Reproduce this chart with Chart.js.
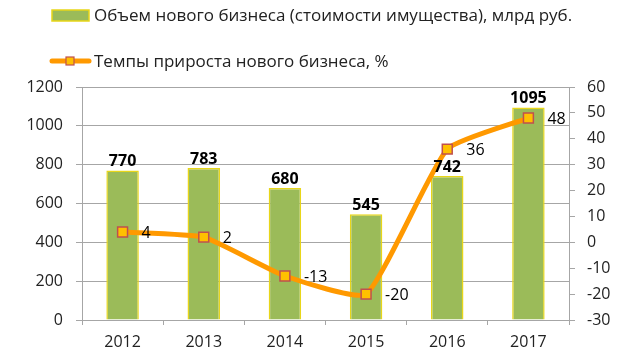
<!DOCTYPE html>
<html>
<head>
<meta charset="utf-8">
<script src="https://cdn.jsdelivr.net/npm/chart.js@4"></script>
<style>
  html, body { margin: 0; padding: 0; background: #fff; }
  #wrap { width: 636px; height: 360px; }
</style>
</head>
<body>
<div id="wrap"><canvas id="chart" width="636" height="360"></canvas></div>
<script>
// данные
const years = ['2012', '2013', '2014', '2015', '2016', '2017'];
const volume = [770, 783, 680, 545, 742, 1095];   // млрд руб.
const growth = [4, 2, -13, -20, 36, 48];          // %
const leftTicks = { min: 0, max: 1200, step: 200 };
const rightTicks = { min: -30, max: 60, step: 10 };

const FONT = "'Open Sans', 'Noto Sans', sans-serif";
const GRID = '#a6a6a6';
const TEXT = '#222';

// легенда (две строки, как в Excel)
const legendPlugin = {
  id: 'xlLegend',
  afterDraw(chart) {
    const c = chart.ctx;
    const ds = chart.data.datasets;
    c.save();
    c.font = '17px ' + FONT;
    c.textBaseline = 'middle';
    // столбцы
    c.fillStyle = ds[0].backgroundColor;
    c.fillRect(52, 10, 37, 11);
    c.strokeStyle = ds[0].borderColor;
    c.lineWidth = 1.5;
    c.strokeRect(52, 10, 37, 11);
    c.fillStyle = TEXT;
    c.fillText(ds[0].label, 94, 16);
    // линия
    c.strokeStyle = ds[1].borderColor;
    c.lineWidth = 5;
    c.lineCap = 'round';
    c.beginPath();
    c.moveTo(52, 61);
    c.lineTo(89, 61);
    c.stroke();
    c.fillStyle = ds[1].pointBackgroundColor;
    c.fillRect(66, 57, 8, 8);
    c.strokeStyle = ds[1].pointBorderColor;
    c.lineWidth = 1.2;
    c.strokeRect(66, 57, 8, 8);
    c.fillStyle = TEXT;
    c.fillText(ds[1].label, 94, 62);
    c.restore();
  }
};

// подписи значений
const labelsPlugin = {
  id: 'valueLabels',
  afterDatasetsDraw(chart) {
    const c = chart.ctx;
    c.save();
    c.fillStyle = '#000';
    // над столбцами
    c.font = 'bold 16px ' + FONT;
    c.textAlign = 'center';
    c.textBaseline = 'alphabetic';
    chart.getDatasetMeta(0).data.forEach((bar, i) => {
      c.fillText(String(volume[i]), bar.x, bar.y - 4);
    });
    // справа от точек
    c.font = '16px ' + FONT;
    c.textAlign = 'left';
    c.textBaseline = 'middle';
    chart.getDatasetMeta(1).data.forEach((pt, i) => {
      c.fillText(String(growth[i]), pt.x + 19, pt.y + 1);
    });
    c.restore();
  }
};

const plain = v => String(v);

new Chart(document.getElementById('chart'), {
  data: {
    labels: years,
    datasets: [
      {
        type: 'bar',
        label: 'Объем нового бизнеса (стоимости имущества), млрд руб.',
        data: volume,
        yAxisID: 'y',
        backgroundColor: '#9bbb59',
        borderColor: '#e8d619',
        borderWidth: 1.5,
        barPercentage: 0.4,
        categoryPercentage: 1,
        order: 2
      },
      {
        type: 'line',
        label: 'Темпы прироста нового бизнеса, %',
        data: growth,
        yAxisID: 'y1',
        borderColor: '#ff9900',
        borderWidth: 5,
        tension: 0.15,
        pointStyle: 'rect',
        pointRadius: 7,
        pointBackgroundColor: '#ffc000',
        pointBorderColor: '#c0504d',
        pointBorderWidth: 1.5,
        order: 1
      }
    ]
  },
  options: {
    responsive: false,
    animation: false,
    layout: { padding: { top: 87, left: 0, right: 0, bottom: 0 } },
    plugins: {
      legend: { display: false },
      tooltip: { enabled: false }
    },
    scales: {
      x: {
        afterFit(s) { s.height = 40; },
        grid: { offset: true, drawOnChartArea: false, color: GRID, tickLength: 5 },
        border: { color: GRID },
        ticks: { color: TEXT, font: { family: FONT, size: 16 }, padding: 8, maxRotation: 0 }
      },
      y: {
        position: 'left',
        min: leftTicks.min,
        max: leftTicks.max,
        afterFit(s) { s.width = 82; },
        grid: { color: GRID, tickLength: 6 },
        border: { color: GRID },
        ticks: { stepSize: leftTicks.step, callback: plain, color: TEXT, font: { family: FONT, size: 16 }, padding: 13 }
      },
      y1: {
        position: 'right',
        min: rightTicks.min,
        max: rightTicks.max,
        afterFit(s) { s.width = 67; },
        grid: { drawOnChartArea: false, color: GRID, tickLength: 6 },
        border: { color: GRID },
        ticks: { stepSize: rightTicks.step, callback: plain, color: TEXT, font: { family: FONT, size: 16 }, padding: 12 }
      }
    }
  },
  plugins: [legendPlugin, labelsPlugin]
});
</script>
</body>
</html>
